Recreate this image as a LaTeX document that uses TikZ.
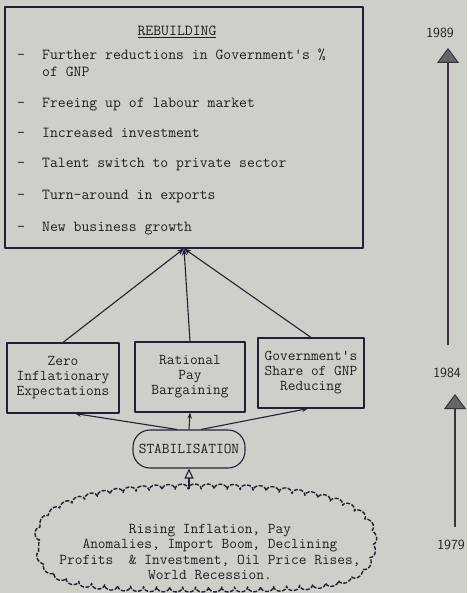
\documentclass[tikz,border=0pt]{standalone}
\usepackage{fontspec}
\usepackage[usenames,dvipsnames]{xcolor}
\usepackage{tikz}
\usetikzlibrary{arrows.meta, positioning, decorations.pathmorphing}

\definecolor{paper}{RGB}{207,207,202}
\definecolor{ink}{RGB}{32,32,58}
\definecolor{typed}{RGB}{30,30,36}
\definecolor{shaft}{RGB}{58,48,66}

\begin{document}
\begin{tikzpicture}[x=1pt, y=-1pt, line join=round,
        typebox/.style={rectangle, draw=ink, line width=1.1pt, minimum height=70pt, inner sep=2pt, align=center, font=\fontsize{15}{15}\ttfamily, text=typed},
        item/.style={anchor=base west, inner sep=0pt, font=\fontsize{15.3}{18}\ttfamily, text=typed},
        link/.style={draw=ink, line width=1.1pt},
        year/.style={font=\fontsize{14}{14}\sffamily, text=typed},
        cloudline/.style={draw=ink, line width=1.4pt, dash pattern=on 4pt off 1.5pt, decorate, decoration={bumps, segment length=26pt, amplitude=5pt}},
        timeline/.style={draw=shaft, line width=2.8pt, -{Triangle[width=22pt, length=15pt, fill=gray!80!black, line width=1pt]}}]
        \fill[paper] (0,0) rectangle (467,593);
        \useasboundingbox (0,0) rectangle (467,593);

        % rebuilding box with its list
        \node[draw=ink, line width=1.1pt, minimum width=358pt, minimum height=241pt, inner sep=0pt] (rebuild) at (184,127.5) {};
        \node[item, anchor=base] (head) at (177,36) {\underline{REBUILDING}};
        \foreach \y [count=\i] in {60,108,138,168,200,232}
            \node[item] (dash\i) at (17,\y) {-};
        \foreach \y/\txt [count=\i] in {60/{Further reductions in Government's \%}, 77/{of GNP}, 108/{Freeing up of labour market}, 138/{Increased investment}, 168/{Talent switch to private sector}, 200/{Turn-around in exports}, 232/{New business growth}}
            \node[item] (line\i) at (42,\y) {\txt};

        % the three conditions
        \node[typebox, minimum width=112pt] (zero) at (63,378) {Zero\\Inflationary\\Expectations};
        \node[typebox, minimum width=110pt] (rational) at (190,377) {Rational\\Pay\\Bargaining};
        \node[typebox, minimum width=106pt] (share) at (311,373) {Government's\\Share of GNP\\Reducing};

        \draw[link, -{Stealth[length=7pt]}] (zero.north) -- (rebuild.south);
        \draw[link, -{Stealth[length=7pt]}] (rational.north) -- (rebuild.south);
        \draw[link, -{Stealth[length=7pt]}] (share.north) -- (rebuild.south);

        % stabilisation
        \node[draw=ink, line width=1.1pt, rounded corners=17pt, minimum width=112pt, minimum height=38pt, inner sep=0pt, font=\fontsize{15}{15}\ttfamily, text=typed] (stab) at (189,449) {STABILISATION};

        \draw[link, -{Stealth[length=6pt]}] ([xshift=-12pt]stab.north) -- ([xshift=12pt]zero.south);
        \draw[link, -{Stealth[length=6pt]}] (stab.north) -- (rational.south);
        \draw[link, -{Stealth[length=6pt]}] ([xshift=12pt]stab.north) -- ([xshift=-3pt]share.south);

        % causes cloud
        \node[minimum width=332pt, minimum height=103pt, inner sep=0pt] (causes) at (206,538.5) {};
        \draw[cloudline] (40,540) .. controls (40,500) and (110,489) .. (200,489)
            .. controls (300,489) and (371,500) .. (371,540)
            .. controls (371,585) and (330,587) .. (206,587)
            .. controls (82,587) and (40,585) .. (40,540) -- cycle;
        \node[align=center, font=\fontsize{15}{15.5}\ttfamily, text=typed] (causetext) at (210,552) {Rising Inflation, Pay\\Anomalies, Import Boom, Declining\\Profits\ \ \& Investment, Oil Price Rises,\\World Recession.};
        \draw[link, -{Triangle[open, width=9pt, length=10pt]}] ([yshift=-2pt]causes.north -| stab.south) -- (stab.south);

        % time scale
        \node[year] (y1989) at (440,33) {1989};
        \node[year] (y1984) at (447,373) {1984};
        \node[year] (y1979) at (451,545) {1979};
        \coordinate (span1a) at (448,345);
        \coordinate (span1b) at (448,48);
        \coordinate (span2a) at (455,527);
        \coordinate (span2b) at (455,394);
        \draw[timeline] (span1a) -- (span1b);
        \draw[timeline] (span2a) -- (span2b);
    \end{tikzpicture}
\end{document}
